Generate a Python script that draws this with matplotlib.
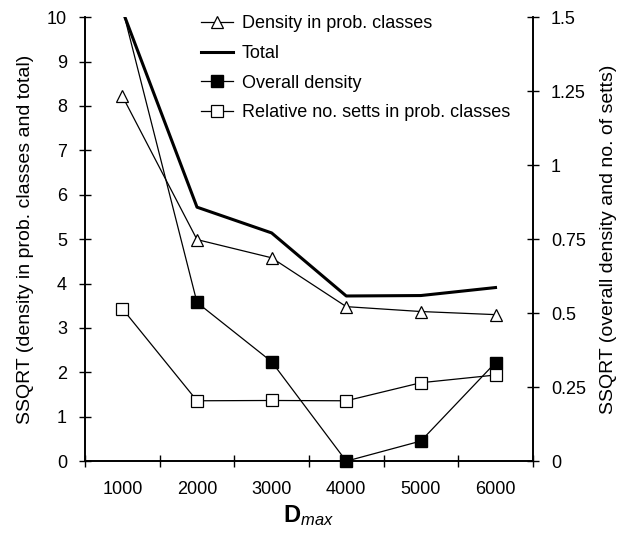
import numpy as np
from matplotlib import pyplot as plt

#values
dmax = ['1000', '2000', '3000', '4000', '5000', '6000']
density_prob = [8.22, 4.99, 4.58, 3.48, 3.37, 3.30]   #left axis
total = [10.15, 5.72, 5.14, 3.72, 3.73, 3.91]          #left axis
overall_density = [1.53, 0.536, 0.336, 0.0, 0.068, 0.333]   #right axis
rel_setts = [0.515, 0.204, 0.205, 0.204, 0.265, 0.291]      #right axis

plt.rcParams['font.family'] = ['Liberation Sans', 'DejaVu Sans']
plt.rcParams['mathtext.fontset'] = 'custom'
plt.rcParams['mathtext.rm'] = 'Liberation Sans'
plt.rcParams['mathtext.it'] = 'Liberation Sans:italic'
plt.rcParams['mathtext.bf'] = 'Liberation Sans:bold'

fig = plt.figure(figsize=(6.21, 5.35), dpi=100)
ax = fig.add_axes([0.137, 0.138, 0.721, 0.830])
ax2 = ax.twinx()

x = np.arange(1, len(dmax) + 1)

l1, = ax.plot(x, density_prob, color='black', lw=0.9, marker='^', ms=8.5,
              mfc='white', mec='black', mew=0.9, label='Density in prob. classes')
l2, = ax.plot(x, total, color='black', lw=2.2, label='Total')

#line gets clipped at the top, markers drawn separately so the 0 one is not cut
ax2.plot(x, overall_density, color='black', lw=0.9)
ax2.plot(x, overall_density, ls='none', marker='s', ms=8.5, mfc='black', mec='black',
         markevery=[1, 2, 3, 4, 5], clip_on=False)
ax2.plot(x, rel_setts, color='black', lw=0.9, marker='s', ms=8.5, mfc='white',
         mec='black', mew=0.9, clip_on=False)
l3, = ax2.plot([], [], color='black', lw=0.9, marker='s', ms=8, mfc='black', label='Overall density')
l4, = ax2.plot([], [], color='black', lw=0.9, marker='s', ms=8, mfc='white', mew=0.9,
               label='Relative no. setts in prob. classes')

ax.set_xlim(0.5, len(dmax) + 0.5)
ax.set_ylim(0, 10)
ax2.set_ylim(0, 1.5)

#category axis, ticks between the categories
ax.set_xticks(np.arange(0.5, len(dmax) + 1, 1))
ax.set_xticklabels([])
ax.set_xticks(x, minor=True)
ax.set_xticklabels(dmax, minor=True)
ax.tick_params(axis='x', which='major', direction='inout', length=8, width=1)
ax.tick_params(axis='x', which='minor', length=0, pad=14, labelsize=13)
ax.set_yticks(range(0, 11))
ax.tick_params(axis='y', direction='inout', length=8, width=1, labelsize=13, pad=9)
ax2.set_yticks([0, 0.25, 0.5, 0.75, 1, 1.25, 1.5])
ax2.set_yticklabels(['0', '0.25', '0.5', '0.75', '1', '1.25', '1.5'])
ax2.tick_params(axis='y', direction='inout', length=8, width=1, labelsize=13, pad=9)

for a in (ax, ax2):
    a.spines['top'].set_visible(False)
    for s in ('left', 'right', 'bottom'):
        a.spines[s].set_linewidth(1.2)

ax.set_ylabel('SSQRT (density in prob. classes and total)', fontsize=14, labelpad=9)
ax2.set_ylabel('SSQRT (overall density and no. of setts)', fontsize=14, labelpad=10)
ax.set_xlabel(r'$\mathbf{D}_{\mathit{max}}$', fontsize=17, labelpad=4)

fig.legend(handles=[l1, l2, l3, l4], loc='upper left', bbox_to_anchor=(0.312, 0.985),
           frameon=False, fontsize=13, handlelength=1.8, handletextpad=0.45,
           labelspacing=0.7, borderaxespad=0)

plt.savefig('out.png', dpi=100)
plt.close('all')
